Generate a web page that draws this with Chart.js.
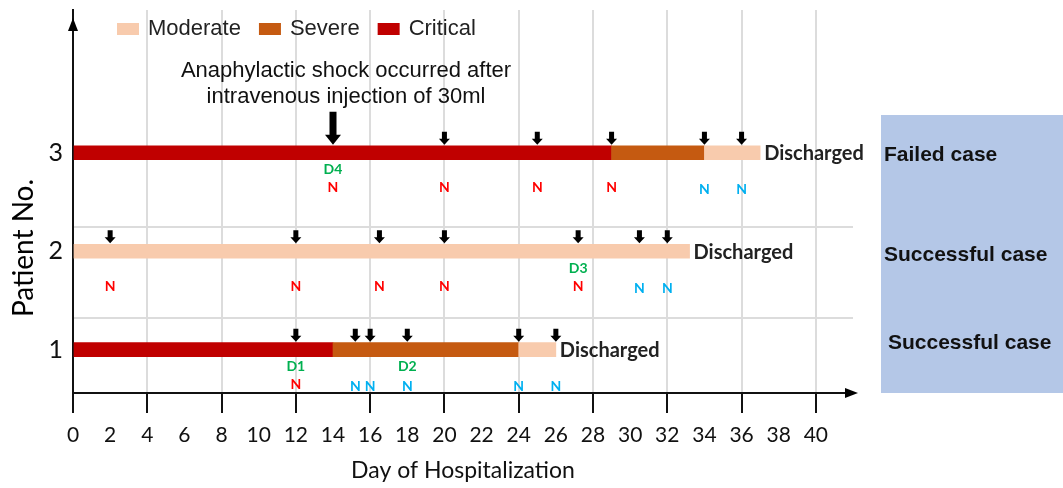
<!DOCTYPE html>
<html>
<head>
<meta charset="utf-8">
<script src="https://cdn.jsdelivr.net/npm/chart.js@4/dist/chart.umd.min.js"></script>
<style>
  body { margin: 0; background: #fff; }
  canvas { display: block; }
</style>
</head>
<body>
<canvas id="grafico" width="1063" height="488"></canvas>
<script>
// Datos por paciente (orden: 3, 2, 1)
const pacientes = [3, 2, 1];
const casos = ["Failed case", "Successful case", "Successful case"];

// Tramos [inicio, fin] en días (null = no hubo)
const moderado = [[34, 37], [0, 33.2], [24, 26]];
const severo = [[29, 34], null, [14, 24]];
const critico = [[0, 29], null, [0, 14]];

// Días con flecha y color de la N debajo (r = rojo, b = azul)
const flechas = [
  [14, 20, 25, 29, 34, 36],
  [2, 12, 16.5, 20, 27.2, 30.5, 32],
  [12, 15.2, 16, 18, 24, 26]
];
const tipoN = [
  ["r", "r", "r", "r", "b", "b"],
  ["r", "r", "r", "r", "r", "b", "b"],
  ["r", "b", "b", "b", "b", "b"]
];
const marcasD = [
  [[14, "D4"]],
  [[27.2, "D3"]],
  [[12, "D1"], [18, "D2"]]
];
const diasAlta = [37, 33.2, 26];

// Evento destacado
const evento = { paciente: 3, dia: 14, texto: ["Anaphylactic shock occurred after", "intravenous injection of 30ml"] };

// Ejes
const ticksX = [0, 2, 4, 6, 8, 10, 12, 14, 16, 18, 20, 22, 24, 26, 28, 30, 32, 34, 36, 38, 40];
const ticksY = [1, 2, 3];
const separadores = [1.32, 2.25];

const colores = { Moderate: "#F8CBAD", Severe: "#C55A11", Critical: "#C00000" };

function tramos(lista) {
  const out = [];
  lista.forEach((t, i) => {
    if (t) out.push({ x: t, y: pacientes[i] });
  });
  return out;
}

// Flecha hacia abajo con punta en (x, yBase)
function flecha(ctx, x, yBase, alto, cuerpo, punta, altoPunta) {
  ctx.beginPath();
  ctx.moveTo(x - cuerpo / 2, yBase - alto);
  ctx.lineTo(x + cuerpo / 2, yBase - alto);
  ctx.lineTo(x + cuerpo / 2, yBase - altoPunta);
  ctx.lineTo(x + punta / 2, yBase - altoPunta);
  ctx.lineTo(x, yBase);
  ctx.lineTo(x - punta / 2, yBase - altoPunta);
  ctx.lineTo(x - cuerpo / 2, yBase - altoPunta);
  ctx.closePath();
  ctx.fill();
}

const anotaciones = {
  id: "anotaciones",
  afterDraw(chart) {
    const { ctx, chartArea, scales } = chart;
    const x = scales.x, y = scales.y;
    ctx.save();

    // Panel derecho
    ctx.fillStyle = "#B4C7E7";
    ctx.fillRect(881, 115, 182, chartArea.bottom - 115);

    // Flechas de los ejes
    ctx.fillStyle = "#000";
    ctx.beginPath();
    ctx.moveTo(chartArea.left, chartArea.top + 8);
    ctx.lineTo(chartArea.left - 5, chartArea.top + 21);
    ctx.lineTo(chartArea.left + 5, chartArea.top + 21);
    ctx.closePath();
    ctx.fill();
    ctx.beginPath();
    ctx.moveTo(chartArea.right + 5, chartArea.bottom);
    ctx.lineTo(chartArea.right - 8, chartArea.bottom - 5);
    ctx.lineTo(chartArea.right - 8, chartArea.bottom + 5);
    ctx.closePath();
    ctx.fill();

    // Leyenda
    let lx = 117;
    ctx.font = "22px 'Liberation Sans', Arial, sans-serif";
    ctx.textBaseline = "middle";
    ctx.textAlign = "left";
    chart.data.datasets.forEach((ds) => {
      ctx.fillStyle = ds.backgroundColor;
      ctx.fillRect(lx, 23, 22, 12);
      lx += 31;
      ctx.fillStyle = "#222";
      ctx.fillText(ds.label, lx, 29);
      lx += ctx.measureText(ds.label).width + 18;
    });

    // Título eje Y
    ctx.save();
    ctx.translate(24, 248);
    ctx.rotate(-Math.PI / 2);
    ctx.textAlign = "center";
    ctx.font = "28px Lato, sans-serif";
    ctx.fillStyle = "#000";
    ctx.fillText("Patient No.", 0, 0);
    ctx.restore();

    pacientes.forEach((p, i) => {
      const yc = y.getPixelForValue(p);
      const top = yc - 7;

      // Flechas de muestras
      ctx.fillStyle = "#000";
      flechas[i].forEach((d) => {
        const px = x.getPixelForValue(d);
        if (p === evento.paciente && d === evento.dia) {
          flecha(ctx, px, top - 1, 33, 7, 16, 10);
        } else {
          flecha(ctx, px, top - 1, 13, 5, 11, 6);
        }
      });

      // N debajo
      ctx.font = "bold 14px Lato, sans-serif";
      ctx.textAlign = "center";
      flechas[i].forEach((d, j) => {
        ctx.fillStyle = tipoN[i][j] === "r" ? "#FF0000" : "#00B0F0";
        ctx.fillText("N", x.getPixelForValue(d), yc + (tipoN[i][j] === "r" ? 35 : 37));
      });

      // Marcas D
      ctx.fillStyle = "#00B050";
      marcasD[i].forEach(([d, txt]) => {
        ctx.fillText(txt, x.getPixelForValue(d), yc + 17);
      });

      // Alta
      ctx.fillStyle = "#222";
      ctx.textAlign = "left";
      ctx.font = "bold 20px Lato, sans-serif";
      ctx.fillText("Discharged", x.getPixelForValue(diasAlta[i]) + 4, yc + 1);

      // Caso
      ctx.fillStyle = "#111";
      ctx.font = "bold 21px 'Liberation Sans', Arial, sans-serif";
      ctx.fillText(casos[i], i === 2 ? 888 : 884, yc + (i === 0 ? 2 : i === 1 ? 4 : -6));
    });

    // Texto del evento
    const ex = x.getPixelForValue(evento.dia) + 13;
    const ey = y.getPixelForValue(evento.paciente) - 7 - 34;
    ctx.fillStyle = "#111";
    ctx.textAlign = "center";
    ctx.font = "22px 'Liberation Sans', Arial, sans-serif";
    ctx.fillText(evento.texto[0], ex, ey - 41);
    ctx.fillText(evento.texto[1], ex, ey - 15);

    ctx.restore();
  }
};

new Chart(document.getElementById("grafico"), {
  type: "bar",
  data: {
    datasets: [
      { label: "Moderate", data: tramos(moderado), backgroundColor: colores.Moderate },
      { label: "Severe", data: tramos(severo), backgroundColor: colores.Severe },
      { label: "Critical", data: tramos(critico), backgroundColor: colores.Critical }
    ]
  },
  options: {
    indexAxis: "y",
    responsive: false,
    animation: false,
    layout: { padding: { top: 10, right: 210, left: 0, bottom: 0 } },
    datasets: { bar: { barThickness: 14, grouped: false, borderWidth: 0 } },
    plugins: {
      legend: { display: false },
      tooltip: { enabled: false }
    },
    scales: {
      x: {
        type: "linear",
        min: 0,
        max: 42,
        afterBuildTicks: (s) => { s.ticks = ticksX.map((v) => ({ value: v })); },
        afterFit: (s) => { s.height = 95; },
        ticks: { font: { family: "Lato", size: 21 }, color: "#111", padding: 10, maxRotation: 0, autoSkip: false },
        grid: {
          color: (c) => (c.tick && c.tick.value % 4 === 0 ? "#DCDCDC" : "rgba(0,0,0,0)"),
          tickColor: (c) => (c.tick && c.tick.value % 4 === 0 ? "#111" : "rgba(0,0,0,0)"),
          lineWidth: 2,
          tickWidth: 2,
          tickLength: 20
        },
        border: { color: "#111", width: 2 },
        title: {
          display: true,
          text: "Day of Hospitalization",
          font: { family: "Lato", size: 23 },
          color: "#111",
          padding: { top: 0, bottom: 4 }
        }
      },
      y: {
        type: "linear",
        min: 0.56,
        max: 4.45,
        offset: false,
        afterBuildTicks: (s) => {
          s.ticks = ticksY.concat(separadores).sort((a, b) => a - b).map((v) => ({ value: v }));
        },
        afterFit: (s) => {
          s.width = 73;
          s.paddingTop = 0;
          s.paddingBottom = 0;
        },
        ticks: {
          font: { family: "Lato", size: 25 },
          color: "#111",
          padding: 10,
          callback: (v) => (ticksY.includes(v) ? String(v) : "")
        },
        grid: {
          offset: false,
          drawTicks: false,
          color: (c) => (c.tick && !ticksY.includes(c.tick.value) ? "#DCDCDC" : "rgba(0,0,0,0)"),
          lineWidth: 2
        },
        border: { color: "#111", width: 2 }
      }
    }
  },
  plugins: [anotaciones]
});
</script>
</body>
</html>
